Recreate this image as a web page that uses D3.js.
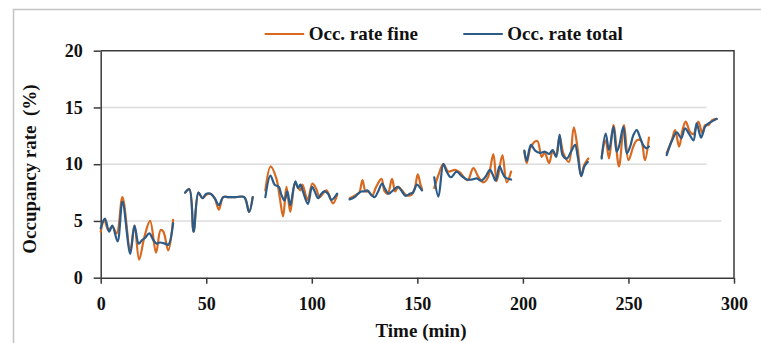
<!DOCTYPE html>
<html>
<head>
<meta charset="utf-8">
<script src="https://cdn.jsdelivr.net/npm/d3@7"></script>
<style>
  body { margin: 0; background: #fff }
  svg  { display: block }
  svg text { font-family: "Liberation Serif", "DejaVu Serif", serif !important; font-weight: bold; fill: #111 }
  .axis path, .axis line { stroke: #3a3a3a; stroke-width: 1.5 }
  .axis text { font-size: 18px }
  .grid line { stroke: #dcdcdc; stroke-width: 1.5 }
  .series    { fill: none; stroke-width: 2.2; stroke-linejoin: round; stroke-linecap: round }
</style>
</head>
<body>
<div id="chart"></div>
<script>
// Tick labels
var xTicks = [0, 50, 100, 150, 200, 250, 300]
var yTicks = [0, 5, 10, 15, 20]

// Legend entries
var seriesNames = ["Occ. rate fine", "Occ. rate total"]

// Occ. rate fine - time (min), null marks a gap between recording runs
var fineTime = [
  0, 1.7, 3.6, 5.5, 7.6, 10.3, 14, 16, 18.2, 20.7, 23.4, 26.2, 28.4, 29.7, 32, 34.3, null,
  40, 42, 44, 46.3, 48.2, 50, 52, 54, 56, 58, 60.5, 64, 68, 70.3, 72, null,
  78, 80.5, 83.2, 84.8, 86.4, 88, 89.8, 92, 93, 94.6, 95.6, 98, 100.3, 102.2, 103.7, 106.9, 110, 112, null,
  118, 121, 122.5, 124, 125.5, 127, 128.5, 130.5, 133, 134.5, 136, 138, 139.5, 141, 142.7, 144.5, 147.2, 148.8, 150.2, 151.5, 152.2, null,
  158, 160, 162.3, 164.7, 167.8, 170, 173.8, 176.5, 179, 181.3, 183.5, 186, 187.6, 190.3, 192.3, 194.4, null,
  200.7, 201.8, 203.8, 206.8, 208.9, 210.3, 212.4, 214.1, 215.6, 217.4, 219.2, 221.8, 224.1, 226, 227.6, 229.1, 231, null,
  237.3, 239.2, 240.8, 242.9, 245.5, 247.9, 250, 252.3, 253.9, 255.9, 257.8, 259.7, null,
  268.1, 270.5, 272.1, 274, 275.6, 277.1, 279.2, 280.8, 283.1, 285, 286.3, 287.9, 289.8, 291.8
]
// Occ. rate fine - values (%)
var fineRate = [
  4.05, 5.1, 4.2, 4.5, 3.9, 7.1, 2.4, 4.6, 1.6, 3.6, 5.0, 2.2, 4.2, 4.05, 2.4, 5.1, null,
  7.5, 7.8, 4.05, 7.5, 7.0, 7.3, 7.4, 7.0, 6.0, 7.1, 7.1, 7.1, 7.1, 5.8, 7.1, null,
  7.7, 9.8, 8.75, 7.1, 5.4, 8.0, 5.8, 8.3, 8.1, 7.7, 8.2, 6.85, 8.3, 7.8, 7.1, 7.7, 6.55, 7.3, null,
  7.0, 7.3, 7.5, 8.6, 7.6, 7.6, 7.2, 8.0, 8.7, 7.6, 7.4, 8.7, 7.6, 8.0, 7.7, 7.3, 7.3, 7.9, 9.1, 8.2, 7.8, null,
  7.9, 9.05, 10.0, 9.35, 9.5, 9.3, 8.6, 9.65, 8.85, 8.4, 8.85, 10.9, 8.5, 10.8, 8.4, 9.35, null,
  11.1, 10.1, 11.55, 12.05, 10.65, 11.0, 10.1, 11.1, 10.8, 12.4, 10.95, 10.2, 13.25, 11.25, 8.95, 9.95, 10.5, null,
  10.65, 12.1, 10.5, 13.45, 9.8, 13.45, 10.35, 11.55, 12.1, 12.1, 10.35, 12.35, null,
  11.0, 12.1, 13.0, 11.55, 13.0, 13.75, 12.85, 12.65, 13.75, 12.7, 13.45, 13.45, 13.9, 14.0
]

// Occ. rate total - time (min)
var totalTime = [
  0, 2, 4, 5.5, 8, 10.3, 14, 16, 18, 19.5, 21, 23, 25, 26.5, 28, 30.5, 32, 34.3, null,
  40, 42, 44, 46.3, 48.2, 50, 52, 54, 56, 58, 60.5, 64, 68, 70.3, 72, null,
  78, 80.4, 82.4, 84.4, 85.6, 87.1, 88.4, 89.8, 92.2, 93.5, 94.6, 95.8, 98.2, 100.1, 101.4, 103, 104.5, 106, 107.7, 109.3, 112, null,
  117.9, 120.3, 121.9, 123.5, 125, 126.3, 127.7, 129.8, 131.4, 133.3, 134.5, 136.4, 138.5, 140.8, 142.7, 144.5, 146.4, 147.9, 149.8, 151, 152.2, null,
  158, 160, 162.3, 163.9, 165.9, 168.6, 171, 173.4, 175.8, 178.1, 180.2, 182.1, 184.4, 185.8, 187.1, 188.9, 190.2, 191.5, 194.4, null,
  200.7, 201.8, 203.8, 205.8, 208.1, 210.5, 212.4, 214.1, 215.8, 217.4, 218.8, 220.8, 222.8, 224.7, 226, 227.6, 229.1, 230.7, null,
  237.3, 239.2, 240.8, 242.9, 244.4, 245.5, 247.6, 249.2, 250.8, 252.3, 253.9, 255.4, 256.9, 258.5, 259.7, null,
  268.1, 270.8, 272.9, 275, 276.8, 278.8, 280.8, 282.3, 284.4, 286.3, 287.9, 289.4, 291.8
]
// Occ. rate total - values (%)
var totalRate = [
  4.35, 5.2, 4.05, 4.6, 3.2, 6.7, 2.1, 4.6, 3.0, 3.3, 3.5, 3.9, 3.3, 3.0, 3.1, 3.0, 2.9, 4.8, null,
  7.5, 7.8, 4.05, 7.5, 7.0, 7.4, 7.4, 7.0, 6.4, 7.1, 7.1, 7.1, 7.1, 5.8, 7.1, null,
  7.1, 9.0, 8.2, 8.0, 7.3, 6.8, 7.6, 6.4, 8.5, 7.9, 8.2, 7.6, 6.5, 8.0, 7.6, 7.0, 7.4, 7.6, 7.4, 6.85, 7.4, null,
  6.9, 7.1, 7.4, 7.6, 7.6, 7.7, 7.4, 7.1, 7.6, 8.3, 7.9, 7.4, 7.7, 8.0, 7.6, 7.2, 7.4, 7.5, 8.2, 8.0, 7.7, null,
  8.85, 7.15, 10.0, 9.35, 8.85, 9.35, 8.95, 8.65, 8.65, 8.75, 8.55, 8.85, 9.5, 9.05, 8.55, 9.8, 9.3, 8.85, 8.65, null,
  11.2, 10.3, 11.7, 11.2, 11.0, 11.1, 10.9, 11.25, 10.65, 12.6, 10.8, 10.5, 11.1, 11.7, 10.65, 8.95, 9.8, 10.2, null,
  10.5, 12.7, 11.25, 13.3, 11.1, 11.55, 13.3, 10.95, 11.55, 12.55, 13.0, 12.4, 11.7, 11.4, 11.55, null,
  10.8, 12.15, 12.8, 12.3, 13.15, 12.65, 12.1, 13.6, 12.35, 13.3, 13.6, 13.75, 14.0
]

var colours = ["#d8691f", "#2b5b88"]

var W = 761, H = 343

var svg = d3.select("#chart").append("svg")
            .attr("width", W)
            .attr("height", H)

// Outer frame of the figure
svg.append("path")
   .attr("d", "M13.5," + H + "V9.5H" + W)
   .attr("fill", "none")
   .attr("stroke", "#c4c4c4")
   .attr("stroke-width", 1.5)

// Scales
var xScale = d3.scaleLinear().domain([0, 300]).range([100.7, 734]),
    yScale = d3.scaleLinear().domain([0, 20]).range([277.7, 50.7])

// Grid lines (they stop short of the right edge in the original)
var gridEnd = { 5 : 294, 10 : 287, 15 : 287 }
svg.append("g")
   .attr("class", "grid")
   .selectAll("line")
   .data(yTicks.filter(function (d) { return d > 0 && d < 20 }))
   .enter()
     .append("line")
       .attr("x1", xScale(0))
       .attr("x2", function (d) { return xScale(gridEnd[d]) })
       .attr("y1", function (d) { return yScale(d) })
       .attr("y2", function (d) { return yScale(d) })

// Plot box (top and right edges)
svg.append("path")
   .attr("d", "M" + xScale(0) + "," + yScale(20) + "H" + xScale(300) + "V" + yScale(0))
   .attr("fill", "none")
   .attr("stroke", "#3a3a3a")
   .attr("stroke-width", 1.5)

// Axes
var xAxis = d3.axisBottom(xScale).tickValues(xTicks).tickSize(6).tickPadding(14).tickSizeOuter(0),
    yAxis = d3.axisLeft(yScale).tickValues(yTicks).tickSize(7).tickPadding(11).tickSizeOuter(0)

svg.append("g")
   .attr("class", "axis axis-x")
   .attr("transform", "translate(0," + yScale(0) + ")")
   .call(xAxis)
svg.append("g")
   .attr("class", "axis axis-y")
   .attr("transform", "translate(" + xScale(0) + ",0)")
   .call(yAxis)

// Axis titles
svg.append("text")
   .attr("x", 421)
   .attr("y", 337)
   .attr("text-anchor", "middle")
   .style("font-size", "19px")
   .text("Time (min)")
svg.append("text")
   .attr("transform", "translate(36,169) rotate(-90)")
   .attr("text-anchor", "middle")
   .style("font-size", "19px")
   .style("white-space", "pre")
   .text("Occupancy rate  (%)")

// Build point lists from the named arrays
var toPoints = function (times, vals) {
  return times.map(function (t, i) {
    return t === null ? null : { t : t, v : vals[i] }
  })
}
var series = [toPoints(fineTime, fineRate), toPoints(totalTime, totalRate)]

// Smoothed line, broken at the gaps
var line = d3.line()
             .defined(function (d) { return d !== null })
             .x(function (d) { return xScale(d.t) })
             .y(function (d) { return yScale(d.v) })
             .curve(d3.curveCatmullRom.alpha(0.5))

series.forEach(function (s, i) {
  svg.append("path")
     .attr("class", "series")
     .attr("d", line(s))
     .attr("stroke", colours[i])
})

// Legend
var legendX = [264.7, 463.3]
var legend = svg.append("g").attr("class", "legend")
seriesNames.forEach(function (name, i) {
  legend.append("line")
        .attr("x1", legendX[i])
        .attr("x2", legendX[i] + 39.5)
        .attr("y1", 34)
        .attr("y2", 34)
        .attr("stroke", colours[i])
        .attr("stroke-width", 2)
  legend.append("text")
        .attr("x", legendX[i] + 44)
        .attr("y", 40)
        .style("font-size", "19px")
        .text(name)
})
</script>
</body>
</html>
